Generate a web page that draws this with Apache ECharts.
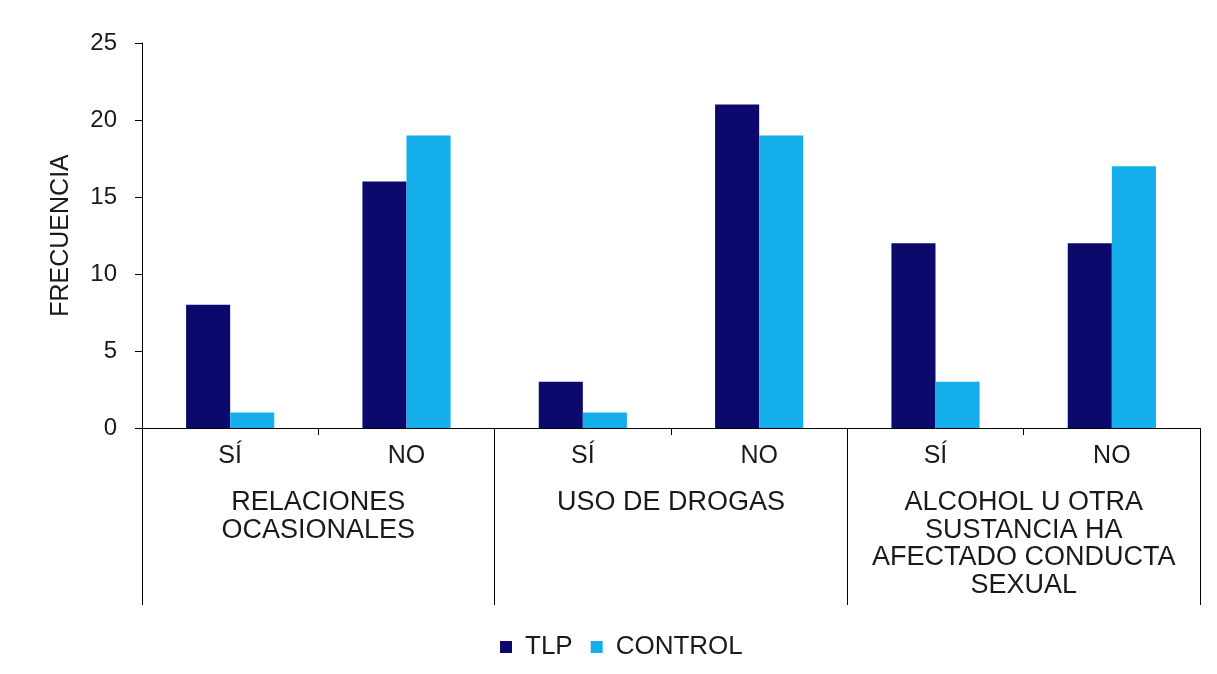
<!DOCTYPE html>
<html>
<head>
<meta charset="utf-8">
<script src="https://cdn.jsdelivr.net/npm/echarts@6/dist/echarts.min.js"></script>
<style>
  html, body { margin: 0; padding: 0; background: #ffffff; }
  #chart { width: 1217px; height: 674px; }
</style>
</head>
<body>
<div id="chart"></div>
<script>
// Answer categories (inner axis) and question groups (outer axis)
const answers = ['SÍ', 'NO', 'SÍ', 'NO', 'SÍ', 'NO'];
const groups = [
  'RELACIONES\nOCASIONALES',
  'USO DE DROGAS',
  'ALCOHOL U OTRA\nSUSTANCIA HA\nAFECTADO CONDUCTA\nSEXUAL'
];
// Frequencies per series
const tlp = [8, 16, 3, 21, 12, 12];
const control = [1, 19, 1, 19, 3, 17];
const yTicks = { min: 0, max: 25, interval: 5 };

const font = 'Liberation Sans, Arial, sans-serif';
const ink = '#1a1a1a';

const chart = echarts.init(document.getElementById('chart'), null, { renderer: 'canvas' });
chart.setOption({
  backgroundColor: '#ffffff',
  animation: false,
  grid: { left: 142, right: 17, top: 43, bottom: 246, containLabel: false },
  legend: {
    data: ['TLP', 'CONTROL'],
    left: 495,
    top: 629,
    icon: 'rect',
    itemWidth: 12,
    itemHeight: 12,
    itemGap: 18,
    textStyle: { fontFamily: font, fontSize: 26, color: ink, padding: [0, 0, 0, 8] }
  },
  xAxis: [
    {
      type: 'category',
      data: answers,
      position: 'bottom',
      axisLine: { show: true, lineStyle: { color: '#000', width: 1 } },
      axisTick: { show: true, length: 7, interval: 0, lineStyle: { color: '#000' } },
      axisLabel: { fontFamily: font, fontSize: 25, color: ink, margin: 16, interval: 0 },
      splitLine: { show: false }
    },
    {
      type: 'category',
      data: groups,
      position: 'bottom',
      axisLine: { show: false },
      axisTick: { show: true, length: 177, interval: 0, lineStyle: { color: '#000' } },
      axisLabel: {
        fontFamily: font, fontSize: 27, color: ink, margin: 61, interval: 0,
        lineHeight: 27.5, verticalAlign: 'top', align: 'center'
      },
      splitLine: { show: false }
    }
  ],
  yAxis: {
    type: 'value',
    min: yTicks.min,
    max: yTicks.max,
    interval: yTicks.interval,
    name: 'FRECUENCIA',
    nameLocation: 'middle',
    nameGap: 68,
    nameRotate: 90,
    nameTextStyle: { fontFamily: font, fontSize: 25, color: ink },
    axisLine: { show: true, lineStyle: { color: '#000', width: 1 } },
    axisTick: { show: true, length: 7, lineStyle: { color: '#000' } },
    axisLabel: { fontFamily: font, fontSize: 24, color: ink, margin: 25 },
    splitLine: { show: false }
  },
  series: [
    {
      name: 'TLP',
      type: 'bar',
      data: tlp,
      xAxisIndex: 0,
      barGap: '0%',
      barCategoryGap: '50%',
      itemStyle: { color: '#0b0a6c' }
    },
    {
      name: 'CONTROL',
      type: 'bar',
      data: control,
      xAxisIndex: 0,
      itemStyle: { color: '#14aeea' }
    }
  ]
});
</script>
</body>
</html>
